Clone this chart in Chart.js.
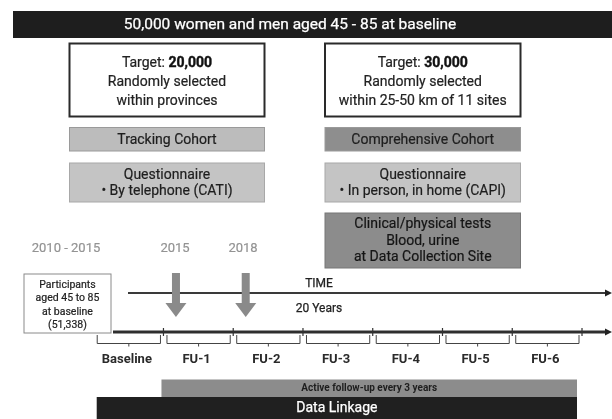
<!DOCTYPE html>
<html>
<head>
<meta charset="utf-8">
<script src="https://cdn.jsdelivr.net/npm/chart.js@4.4.0/dist/chart.umd.min.js"></script>
<style>
  html, body { margin: 0; padding: 0; background: #fff; }
  #wrap { width: 612px; height: 419px; }
</style>
</head>
<body>
<div id="wrap"><canvas id="diagram" width="612" height="419"></canvas></div>
<script>
// ── Données ──────────────────────────────────────────────────────────────
var headerText       = '50,000 women and men aged 45 - 85 at baseline';
var cohorts          = ['Tracking Cohort', 'Comprehensive Cohort'];
var targets          = ['20,000', '30,000'];
var selectionLines   = [['Randomly selected', 'within provinces'],
                        ['Randomly selected', 'within 25-50 km of 11 sites']];
var questionnaire    = ['\u2022 By telephone (CATI)', '\u2022 In person, in home (CAPI)'];
var clinicalLines    = ['Clinical/physical tests', 'Blood, urine', 'at Data Collection Site'];
var yearLabels       = ['2010 - 2015', '2015', '2018'];
var participantLines = ['Participants', 'aged 45 to 85', 'at baseline', '(51,338)'];
var waves            = ['Baseline', 'FU-1', 'FU-2', 'FU-3', 'FU-4', 'FU-5', 'FU-6'];
var waveStart        = [2012, 2015, 2018, 2021, 2024, 2027, 2030];
var waveLength       = 3;
var arrowYears       = [2015, 2018];
var timeLabels       = ['TIME', '20 Years'];
var bandLabels       = ['Active follow-up every 3 years', 'Data Linkage'];

// ── Mise en page (pixels du schéma) ──────────────────────────────────────
var layout = {
    header:   { x0: 13, x1: 612, y0: 11, y1: 38 },
    cols:     [[69.5, 264.5], [325, 520.5]],
    targetY:  [43.5, 116.5],
    cohortY:  [127.5, 151],
    questY:   [163, 202],
    clinY:    [213, 268],
    yearLabelX: [66, 175, 243],
    yearLabelY: 249,
    partBox:  { x0: 24, x1: 111, y0: 274, y1: 333 },
    timeY: 293, timeX0: 128,
    lineY: 332, lineX0: 113,
    arrowShift: 12.5, arrowTop: 273, arrowHead: 303, arrowTip: 317,
    waveLabelY: 360,
    activeY: [379.5, 397], linkY: [397, 419]
};

var FONT = 'Roboto, "DejaVu Sans", sans-serif';

var diagramPlugin = {
    id: 'diagram',
    afterDraw: function (chart) {
        var ctx = chart.ctx;
        var sx = chart.scales.x, sy = chart.scales.y, yr = chart.scales.yr;
        function X(v) { return sx.getPixelForValue(v); }
        function Y(v) { return sy.getPixelForValue(v); }
        function T(v) { return yr.getPixelForValue(v); }

        function rect(x0, y0, x1, y1, fill, stroke, lw) {
            var a = X(x0), b = Y(y0), w = X(x1) - a, h = Y(y1) - b;
            if (fill) { ctx.fillStyle = fill; ctx.fillRect(a, b, w, h); }
            if (stroke) {
                ctx.lineWidth = lw || 1;
                ctx.strokeStyle = stroke;
                ctx.strokeRect(a, b, w, h);
            }
        }
        // texte « medium » : remplissage + léger contour
        function text(str, x, y, font, color, align, heavy) {
            ctx.font = font;
            ctx.fillStyle = color;
            ctx.textAlign = align || 'center';
            ctx.textBaseline = 'middle';
            ctx.fillText(str, X(x), Y(y));
            if (heavy) {
                ctx.strokeStyle = color;
                ctx.lineWidth = heavy;
                ctx.strokeText(str, X(x), Y(y));
            }
        }
        function line(x0, y0, x1, y1, color, lw) {
            ctx.beginPath();
            ctx.moveTo(X(x0), Y(y0));
            ctx.lineTo(X(x1), Y(y1));
            ctx.strokeStyle = color;
            ctx.lineWidth = lw;
            ctx.stroke();
        }
        function arrowHead(xTip, y, color) {
            ctx.beginPath();
            ctx.moveTo(X(xTip), Y(y));
            ctx.lineTo(X(xTip - 7), Y(y - 3.5));
            ctx.lineTo(X(xTip - 7), Y(y + 3.5));
            ctx.closePath();
            ctx.fillStyle = color;
            ctx.fill();
        }

        ctx.save();
        var L = layout;
        var F14 = '14px ' + FONT;
        var B14 = 'bold 14px ' + FONT;
        var HV = 0.2;

        // Bandeau titre
        rect(L.header.x0, L.header.y0, L.header.x1, L.header.y1, '#1e1e1e');
        text(headerText, 290, 25, '15.5px ' + FONT, '#ffffff', 'center', 0.25);

        // Colonnes : cible, cohorte, questionnaire
        var cohortFill = ['#bcbcbc', '#8e8e8e'];
        for (var i = 0; i < 2; i++) {
            var c = L.cols[i], cx = (c[0] + c[1]) / 2;
            rect(c[0], L.targetY[0], c[1], L.targetY[1], '#ffffff', '#2a2a2a', 2);

            // "Target: " + valeur en gras
            ctx.font = F14;
            var w1 = ctx.measureText('Target: ').width;
            ctx.font = B14;
            var w2 = ctx.measureText(targets[i]).width;
            var start = cx - (w1 + w2) / 2;
            text('Target: ', start, 63, F14, '#222', 'left', HV);
            text(targets[i], start + w1, 63, B14, '#111', 'left', 0.4);
            text(selectionLines[i][0], cx, 82, F14, '#222', 'center', HV);
            text(selectionLines[i][1], cx, 101, F14, '#222', 'center', HV);

            rect(c[0], L.cohortY[0], c[1], L.cohortY[1], cohortFill[i], '#9a9a9a', 1);
            text(cohorts[i], cx, 140, F14, '#1e1e1e', 'center', HV);

            rect(c[0], L.questY[0], c[1], L.questY[1], '#c4c4c4', '#a8a8a8', 1);
            text('Questionnaire', cx, 175.5, F14, '#1e1e1e', 'center', HV);
            text(questionnaire[i], cx, 191.5, F14, '#1e1e1e', 'center', HV);
        }

        // Tests cliniques
        var rc = L.cols[1], rcx = (rc[0] + rc[1]) / 2;
        rect(rc[0], L.clinY[0], rc[1], L.clinY[1], '#8c8c8c', '#777', 1);
        for (var j = 0; j < clinicalLines.length; j++) {
            text(clinicalLines[j], rcx, 224.5 + j * 16.5, F14, '#151515', 'center', HV);
        }

        // Années
        for (var k = 0; k < yearLabels.length; k++) {
            text(yearLabels[k], L.yearLabelX[k], L.yearLabelY, '13px ' + FONT, '#939393', 'center', 0.2);
        }

        // Boîte participants
        var pb = L.partBox;
        rect(pb.x0, pb.y0, pb.x1, pb.y1, '#ffffff', '#8a8a8a', 1);
        for (var p = 0; p < participantLines.length; p++) {
            text(participantLines[p], (pb.x0 + pb.x1) / 2, 285.5 + p * 13.2, '10.5px ' + FONT, '#222', 'center', 0.2);
        }

        // Flèche TIME
        line(L.timeX0, L.timeY, 606, L.timeY, '#3a3a3a', 2);
        arrowHead(612, L.timeY, '#222');
        text(timeLabels[0], 319, 283.5, '12px ' + FONT, '#222', 'center', 0.25);
        text(timeLabels[1], 319, 308.5, '12px ' + FONT, '#222', 'center', 0.25);

        // Ligne du temps des vagues
        line(L.lineX0, L.lineY, 606, L.lineY, '#2e2e2e', 3);
        arrowHead(612, L.lineY, '#222');

        var endYear = waveStart[waveStart.length - 1] + waveLength;
        for (var t = 1; t <= waves.length; t++) {
            var ty = (t < waves.length) ? waveStart[t] : endYear;
            ctx.beginPath();
            ctx.moveTo(T(ty), Y(L.lineY - 4));
            ctx.lineTo(T(ty), Y(L.lineY + 4));
            ctx.strokeStyle = '#333';
            ctx.lineWidth = 1.2;
            ctx.stroke();
        }

        // Accolades et libellés
        for (var w = 0; w < waves.length; w++) {
            var a = T(waveStart[w]) + 3.5, b = T(waveStart[w] + waveLength) - 3;
            var m = (a + b) / 2;
            ctx.beginPath();
            ctx.moveTo(a, Y(335)); ctx.lineTo(a, Y(343.5));
            ctx.lineTo(b, Y(343.5)); ctx.lineTo(b, Y(335));
            ctx.moveTo(m, Y(343.5)); ctx.lineTo(m, Y(346.5));
            ctx.strokeStyle = '#444';
            ctx.lineWidth = 1;
            ctx.stroke();
            ctx.font = 'bold 13px ' + FONT;
            ctx.fillStyle = '#2a2a2a';
            ctx.textAlign = 'center';
            ctx.textBaseline = 'middle';
            ctx.fillText(waves[w], m - 2, Y(L.waveLabelY));
        }

        // Flèches grises (collectes 2015, 2018)
        for (var r = 0; r < arrowYears.length; r++) {
            var ax = T(arrowYears[r]) + L.arrowShift;
            ctx.fillStyle = '#8a8a8a';
            ctx.fillRect(ax - 4, Y(L.arrowTop), 8, Y(L.arrowHead) - Y(L.arrowTop));
            ctx.beginPath();
            ctx.moveTo(ax - 10.5, Y(L.arrowHead));
            ctx.lineTo(ax + 10.5, Y(L.arrowHead));
            ctx.lineTo(ax, Y(L.arrowTip));
            ctx.closePath();
            ctx.fill();
        }

        // Bandes du bas
        var xa = T(waveStart[1]) - 2, xb = T(endYear) - 5, xl = T(waveStart[0]) + 3;
        ctx.fillStyle = '#8c8c8c';
        ctx.fillRect(xa, Y(L.activeY[0]), xb - xa, Y(L.activeY[1]) - Y(L.activeY[0]));
        ctx.fillStyle = '#202020';
        ctx.fillRect(xl, Y(L.linkY[0]), xb - xl, Y(L.linkY[1]) - Y(L.linkY[0]));
        ctx.font = 'bold 10px ' + FONT;
        ctx.fillStyle = '#1e1e1e';
        ctx.textAlign = 'center';
        ctx.fillText(bandLabels[0], (xa + xb) / 2, Y(388.5));
        ctx.font = '14px ' + FONT;
        ctx.fillStyle = '#ffffff';
        ctx.strokeStyle = '#ffffff';
        ctx.lineWidth = 0.25;
        ctx.fillText(bandLabels[1], (xl + xb) / 2, Y(408.5));
        ctx.strokeText(bandLabels[1], (xl + xb) / 2, Y(408.5));

        ctx.restore();
    }
};

new Chart(document.getElementById('diagram'), {
    type: 'scatter',
    data: { datasets: [] },
    options: {
        responsive: false,
        animation: false,
        devicePixelRatio: 1,
        layout: { padding: 0 },
        plugins: { legend: { display: false }, tooltip: { enabled: false } },
        scales: {
            x:  { type: 'linear', min: 0, max: 612, display: false },
            yr: { type: 'linear', axis: 'x', position: 'bottom', min: 2007.97, max: 2034.29, display: false },
            y:  { type: 'linear', min: 0, max: 419, reverse: true, display: false }
        }
    },
    plugins: [diagramPlugin]
});
</script>
</body>
</html>
